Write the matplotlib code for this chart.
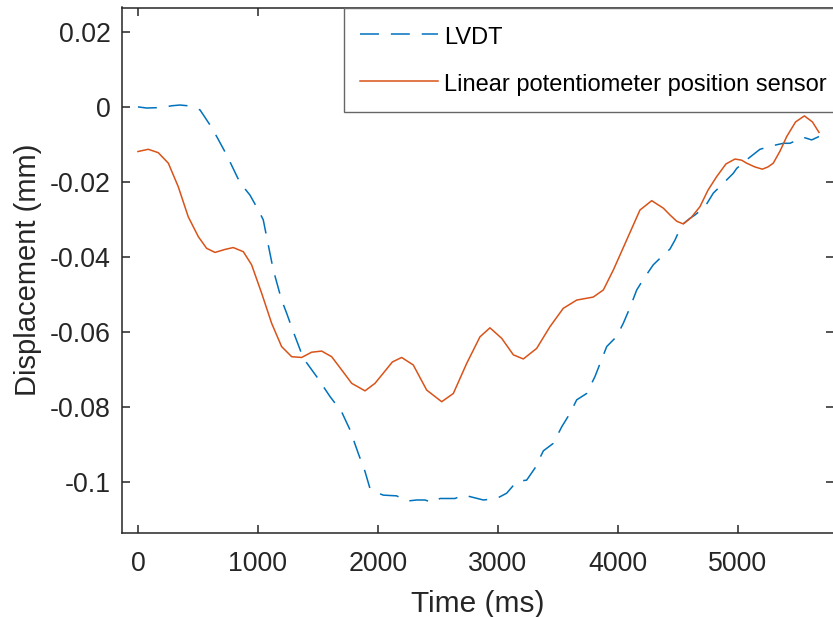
import matplotlib
matplotlib.use("Agg")
import matplotlib.pyplot as plt

plt.rcParams['font.family'] = ['Liberation Sans', 'DejaVu Sans']

# LVDT (dashed) - time in ms, displacement in mm
t_lvdt = [0, 72, 167, 230, 281, 350, 417, 517, 600, 656, 739, 850, 933, 1003,
          1044, 1072, 1128, 1197, 1239, 1294, 1378, 1489, 1600, 1697, 1767,
          1836, 1892, 1933, 1989, 2044, 2156, 2239, 2322, 2392, 2456, 2517,
          2642, 2711, 2767, 2878, 2989, 3072, 3156, 3239, 3308, 3378, 3461,
          3531, 3600, 3656, 3739, 3808, 3906, 3989, 4044, 4100, 4156, 4211,
          4294, 4378, 4433, 4475, 4531, 4600, 4642, 4725, 4794, 4892, 4961,
          4989, 5072, 5183, 5294, 5378, 5433, 5544, 5614, 5675]
d_lvdt = [0.0, -0.0003, -0.0002, 0.0, 0.0003, 0.0005, 0.0003, -0.0008, -0.0048,
          -0.0079, -0.0128, -0.0202, -0.0235, -0.0275, -0.0301, -0.0346,
          -0.0435, -0.0515, -0.0550, -0.0599, -0.0670, -0.0719, -0.0772,
          -0.0813, -0.0861, -0.0924, -0.0972, -0.1017, -0.1028, -0.1035,
          -0.1037, -0.1051, -0.1048, -0.1048, -0.1055, -0.1044, -0.1044,
          -0.1035, -0.1039, -0.1048, -0.1044, -0.1030, -0.0999, -0.0995,
          -0.0963, -0.0917, -0.0897, -0.0853, -0.0817, -0.0781, -0.0764,
          -0.0719, -0.0639, -0.0612, -0.0577, -0.0535, -0.0488, -0.0460,
          -0.0421, -0.0395, -0.0379, -0.0355, -0.0315, -0.0297, -0.0288,
          -0.0266, -0.0230, -0.0199, -0.0177, -0.0164, -0.0141, -0.0113,
          -0.0103, -0.0097, -0.0097, -0.0081, -0.0088, -0.0079]

# linear potentiometer (solid)
t_pot = [0, 86, 169, 253, 336, 419, 503, 572, 642, 725, 794, 878, 947, 1031,
         1114, 1197, 1281, 1364, 1447, 1531, 1614, 1697, 1781, 1892, 1975,
         2044, 2120, 2197, 2294, 2406, 2531, 2628, 2739, 2850, 2933, 3031,
         3128, 3211, 3322, 3433, 3544, 3656, 3794, 3878, 3961, 4072, 4183,
         4281, 4378, 4433, 4490, 4544, 4610, 4683, 4750, 4822, 4900, 4975,
         5030, 5072, 5140, 5203, 5250, 5294, 5350, 5406, 5480, 5553, 5620,
         5675]
d_pot = [-0.0119, -0.0113, -0.0122, -0.0150, -0.0213, -0.0293, -0.0346,
         -0.0377, -0.0388, -0.0380, -0.0375, -0.0386, -0.0421, -0.0497,
         -0.0577, -0.0639, -0.0666, -0.0668, -0.0654, -0.0651, -0.0666,
         -0.0701, -0.0737, -0.0757, -0.0737, -0.0710, -0.0680, -0.0668,
         -0.0688, -0.0755, -0.0786, -0.0764, -0.0684, -0.0613, -0.0589,
         -0.0617, -0.0661, -0.0672, -0.0644, -0.0586, -0.0537, -0.0515,
         -0.0507, -0.0488, -0.0435, -0.0355, -0.0275, -0.0250, -0.0270,
         -0.0288, -0.0305, -0.0312, -0.0295, -0.0266, -0.0222, -0.0186,
         -0.0152, -0.0139, -0.0142, -0.0150, -0.0160, -0.0166, -0.0160,
         -0.0150, -0.0118, -0.0079, -0.0040, -0.0024, -0.0040, -0.0068]

xticks = [0, 1000, 2000, 3000, 4000, 5000]
yticks = [-0.1, -0.08, -0.06, -0.04, -0.02, 0, 0.02]
ytick_labels = ['-0.1', '-0.08', '-0.06', '-0.04', '-0.02', '0', '0.02']

fig = plt.figure(figsize=(8.33, 6.17), dpi=100)
ax = fig.add_axes([122 / 833, 1 - 533 / 617, 712 / 833, 525.5 / 617])

ax.plot(t_lvdt, d_lvdt, color='#0072BD', lw=1.1, dashes=(12.4, 7.8),
        label='LVDT')
ax.plot(t_pot, d_pot, color='#D95319', lw=1.1,
        label='Linear potentiometer position sensor')

ax.set_xlim(-133, 5800)
ax.set_ylim(-0.1136, 0.0265)
ax.set_xticks(xticks)
ax.set_yticks(yticks)
ax.set_yticklabels(ytick_labels)

dark = '#262626'
for s in ax.spines.values():
    s.set_color(dark)
    s.set_linewidth(1.1)
ax.tick_params(direction='in', length=5.5, width=1.1, colors=dark,
               labelsize=19.3, top=True, right=True)
ax.tick_params(axis='y', pad=8)
ax.tick_params(axis='x', pad=13)

ax.set_xlabel('Time (ms)', fontsize=21.5, color=dark, labelpad=9)
ax.set_ylabel('Displacement (mm)', fontsize=21, color=dark, labelpad=6)

leg = ax.legend(loc='upper left', bbox_to_anchor=(0.3118, 1.0),
                borderaxespad=0, fontsize=17, fancybox=False,
                edgecolor='#666666', framealpha=1, handlelength=3.3,
                handleheight=1.2, handletextpad=0.25, labelspacing=0.93,
                borderpad=0.68)
leg.get_frame().set_linewidth(1.0)

fig.savefig('out.png', dpi=100)
